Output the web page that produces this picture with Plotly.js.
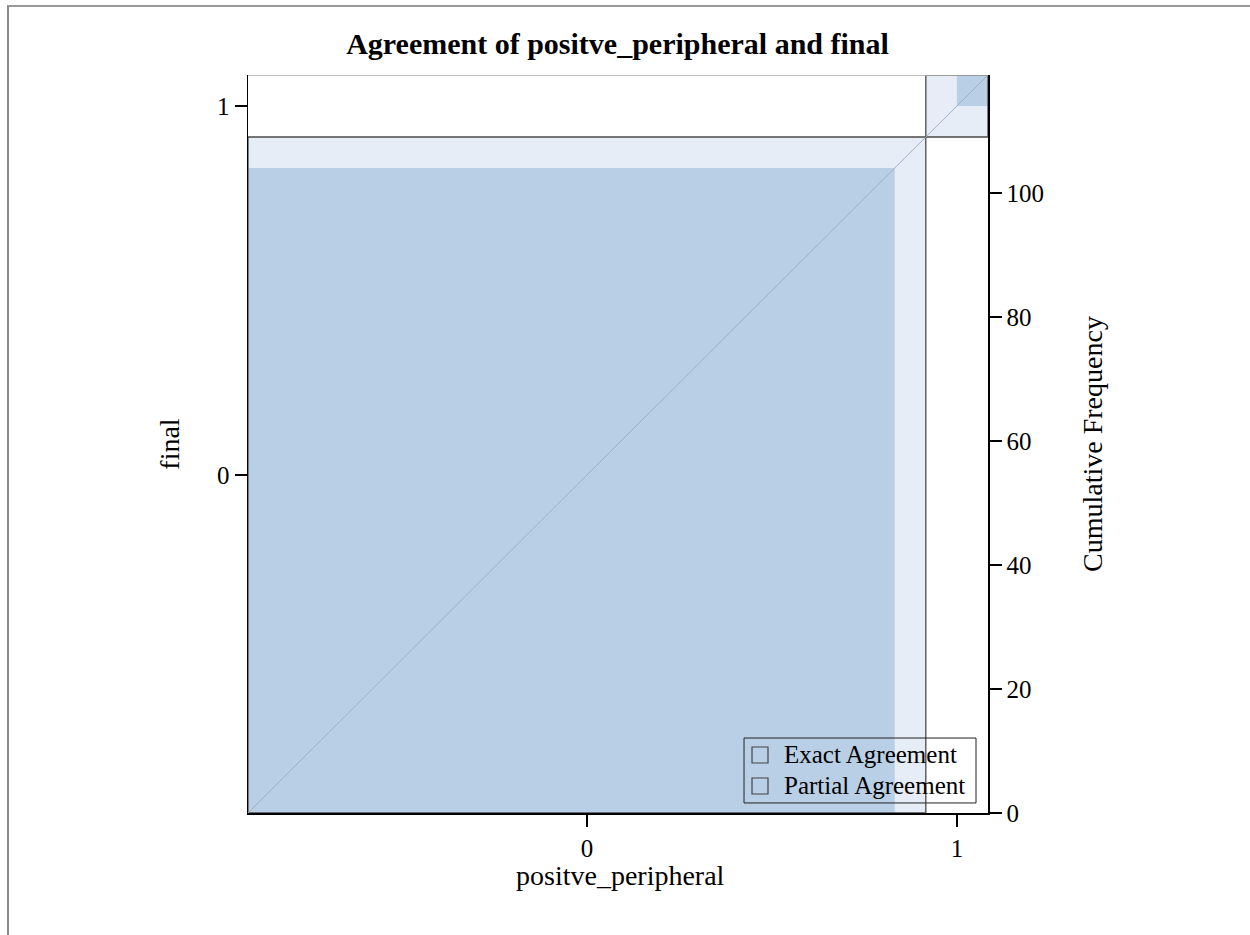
<!DOCTYPE html>
<html>
<head>
<meta charset="utf-8">
<script src="https://cdn.plot.ly/plotly-3.0.1.min.js"></script>
<style>
html,body{margin:0;padding:0;background:#fff;}
#frame{position:absolute;left:7px;top:5px;width:1243px;height:930px;border-top:2px solid #9a9a9a;border-left:2px solid #8a8a8a;box-sizing:border-box;pointer-events:none;z-index:5;}
#chart{position:absolute;left:0;top:0;width:1250px;height:935px;}
</style>
</head>
<body>
<div id="chart"></div>
<div id="frame"></div>
<script>
// Data
const rowVar = 'final';                // y axis (rows)
const colVar = 'positve_peripheral';   // x axis (columns)
const rowLabels = ['0', '1'];
const colLabels = ['0', '1'];
// counts[r][c]: r = final level, c = positve_peripheral level
const counts = [
  [104, 5],
  [5, 5]
];
const freqTicks = [0, 20, 40, 60, 80, 100];
const legendLabels = ['Exact Agreement', 'Partial Agreement'];

const darkCol = 'rgb(184,207,230)';
const lightCol = 'rgb(230,237,246)';
const serif = 'Liberation Serif, Times New Roman, serif';

const k = rowLabels.length;
const rowSums = counts.map(r => r.reduce((a, b) => a + b, 0));
const colSums = colLabels.map((_, c) => counts.reduce((a, r) => a + r[c], 0));
const total = rowSums.reduce((a, b) => a + b, 0);
const rowCum = [0]; rowSums.forEach(s => rowCum.push(rowCum[rowCum.length - 1] + s));
const colCum = [0]; colSums.forEach(s => colCum.push(colCum[colCum.length - 1] + s));
const rowMid = rowSums.map((s, i) => rowCum[i] + s / 2);
const colMid = colSums.map((s, i) => colCum[i] + s / 2);

const shapes = [];
// partial agreement (band of 1)
for (let i = 0; i < k; i++) {
  const lo = Math.max(0, i - 1), hi = Math.min(k - 1, i + 1);
  let xoff = 0; for (let r = 0; r < lo; r++) xoff += counts[r][i];
  let w = 0; for (let r = lo; r <= hi; r++) w += counts[r][i];
  let yoff = 0; for (let c = 0; c < lo; c++) yoff += counts[i][c];
  let h = 0; for (let c = lo; c <= hi; c++) h += counts[i][c];
  shapes.push({type: 'rect', xref: 'x', yref: 'y', x0: colCum[i] + xoff, x1: colCum[i] + xoff + w,
    y0: rowCum[i] + yoff, y1: rowCum[i] + yoff + h, fillcolor: lightCol, line: {width: 0}, layer: 'below'});
}
// exact agreement
for (let i = 0; i < k; i++) {
  let xoff = 0; for (let r = 0; r < i; r++) xoff += counts[r][i];
  let yoff = 0; for (let c = 0; c < i; c++) yoff += counts[i][c];
  shapes.push({type: 'rect', xref: 'x', yref: 'y', x0: colCum[i] + xoff, x1: colCum[i] + xoff + counts[i][i],
    y0: rowCum[i] + yoff, y1: rowCum[i] + yoff + counts[i][i], fillcolor: darkCol, line: {width: 0}, layer: 'below'});
}
// block borders
for (let i = 0; i < k; i++) {
  shapes.push({type: 'rect', xref: 'x', yref: 'y', x0: colCum[i], x1: colCum[i + 1], y0: rowCum[i], y1: rowCum[i + 1],
    fillcolor: 'rgba(0,0,0,0)', line: {color: '#4a4a4a', width: 1.3}});
}
// top frame line
shapes.push({type: 'line', xref: 'x', yref: 'y', x0: 0, x1: total, y0: total, y1: total, line: {color: '#aaa', width: 1.5}});
// diagonal
shapes.push({type: 'line', xref: 'x', yref: 'y', x0: 0, y0: 0, x1: total, y1: total, line: {color: 'rgb(160,175,200)', width: 1}});

// manual legend (paper coordinates of the plot area)
const annotations = [];
const lgX0 = 0.6703, lgX1 = 0.9838, lgY0 = 0.0136, lgY1 = 0.1016;
shapes.push({type: 'rect', xref: 'paper', yref: 'paper', x0: lgX0, x1: lgX1, y0: lgY0, y1: lgY1,
  fillcolor: 'rgba(0,0,0,0)', line: {color: '#222', width: 1}});
legendLabels.forEach((lab, j) => {
  const yc = 0.0786 - j * 0.0420;
  const half = 8 / 738;
  shapes.push({type: 'rect', xref: 'paper', yref: 'paper', x0: 0.6811, x1: 0.7027, y0: yc - half, y1: yc + half,
    fillcolor: 'rgba(0,0,0,0)', line: {color: '#444', width: 1.2}});
  annotations.push({xref: 'paper', yref: 'paper', x: 0.7216, y: yc, xanchor: 'left', yanchor: 'middle', showarrow: false,
    text: lab, font: {family: serif, size: 25, color: 'black'}});
});
// x axis title
annotations.push({xref: 'paper', yref: 'paper', x: 0.503, y: -0.085, xanchor: 'center', yanchor: 'middle', showarrow: false,
  text: colVar, font: {family: serif, size: 28, color: 'black'}});

const traces = [
  {type: 'scatter', mode: 'markers', x: [-1000], y: [-1000], showlegend: false, hoverinfo: 'skip'},
  {type: 'scatter', mode: 'markers', x: [-1000], y: [-1000], yaxis: 'y2', showlegend: false, hoverinfo: 'skip'}
];

const layout = {
  width: 1250, height: 935,
  paper_bgcolor: 'white', plot_bgcolor: 'white',
  margin: {l: 248, r: 262, t: 75, b: 122},
  title: {text: '<b>Agreement of positve_peripheral and final</b>', x: 0.494, xanchor: 'center', y: 0.953, yanchor: 'middle',
    font: {family: serif, size: 30, color: 'black'}},
  font: {family: serif, color: 'black'},
  xaxis: {range: [0, total], showgrid: false, zeroline: false, showline: true, linecolor: 'black', linewidth: 1.5,
    ticks: 'outside', ticklen: 12, tickcolor: 'black', tickwidth: 1.5,
    tickvals: colMid, ticktext: colLabels, tickfont: {family: serif, size: 25}},
  yaxis: {range: [0, total], showgrid: false, zeroline: false, showline: true, linecolor: 'black', linewidth: 1.5,
    ticks: 'outside', ticklen: 12, tickcolor: 'black', tickwidth: 1.5,
    tickvals: rowMid, ticktext: rowLabels, tickfont: {family: serif, size: 25},
    title: {text: rowVar, font: {family: serif, size: 28}, standoff: 29}},
  yaxis2: {range: [0, total], overlaying: 'y', side: 'right', showgrid: false, zeroline: false, showline: true,
    linecolor: 'black', linewidth: 1.5, ticks: 'outside', ticklen: 12, tickcolor: 'black', tickwidth: 1.5,
    tickvals: freqTicks, ticktext: freqTicks.map(String), tickfont: {family: serif, size: 25},
    title: {text: 'Cumulative Frequency', font: {family: serif, size: 28}, standoff: 39}},
  showlegend: false,
  shapes: shapes,
  annotations: annotations
};

Plotly.newPlot('chart', traces, layout, {displayModeBar: false, staticPlot: true});
</script>
</body>
</html>
